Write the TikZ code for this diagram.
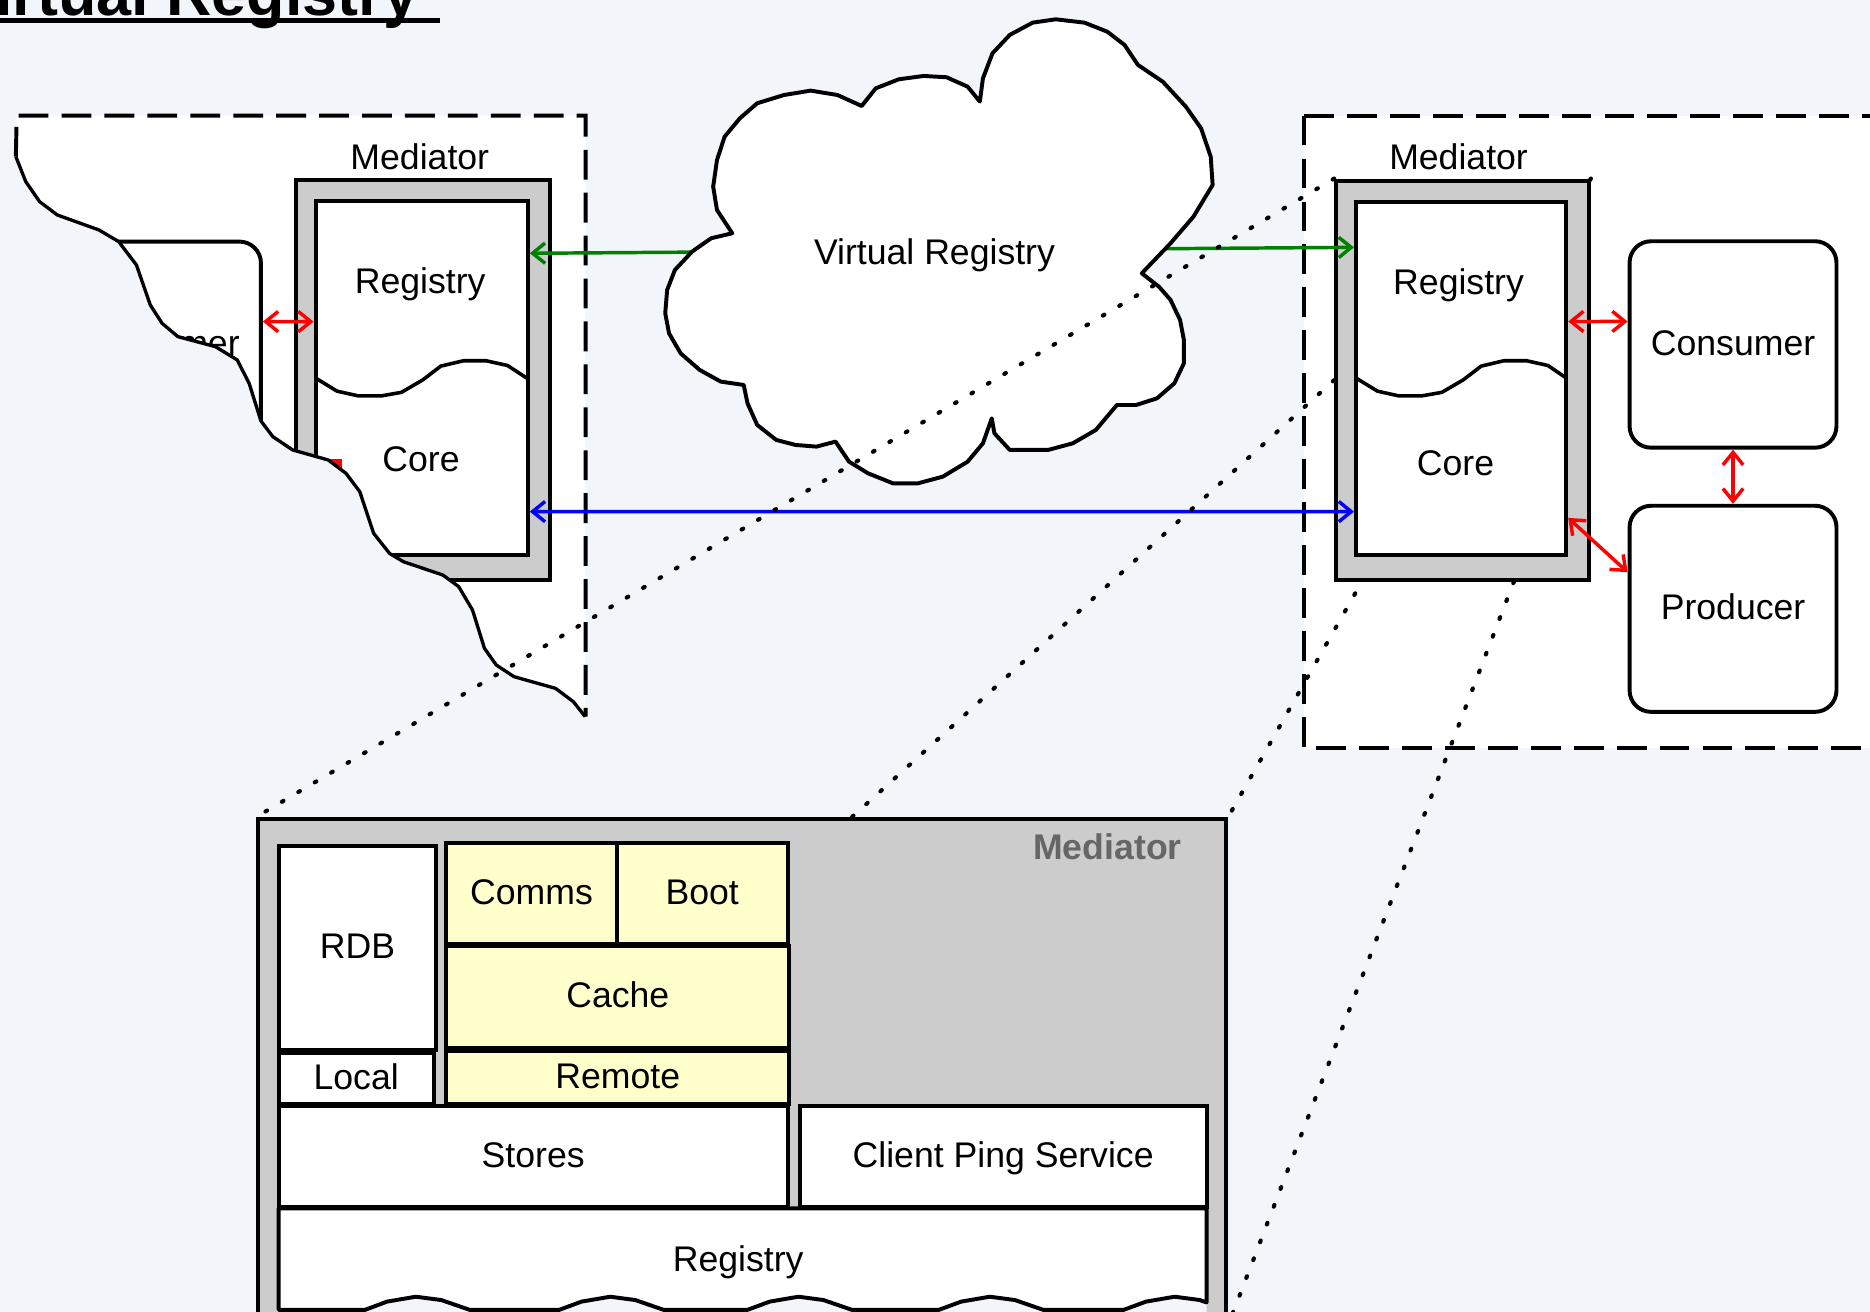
\documentclass[tikz,border=0pt]{standalone}
\usepackage{fontspec}
\setmainfont{Liberation Sans}
\usetikzlibrary{arrows.meta,calc}
\pgfdeclarelayer{back}
\pgfsetlayers{back,main}

\definecolor{bgcol}{HTML}{F2F5FA}
\definecolor{framegray}{HTML}{CCCCCC}
\definecolor{compyellow}{HTML}{FFFFCC}
\definecolor{labelgray}{HTML}{666666}
\definecolor{arrgreen}{HTML}{008000}

\def\tornedge{(13.3,131.4) -- (21.6,152.3) -- (33.2,169.1) -- (48.1,180.3) -- (82.9,192.8) -- (99.5,202.6) -- (114.4,222.2) -- (126,255.7) -- (135.9,271.1) -- (149.2,282.3) -- (180.7,290.7) -- (198.9,301.8) -- (208.9,321.4) -- (218.8,353) -- (228.8,366.2) -- (245.4,377.3) -- (275.2,385.7) -- (290.1,396.9) -- (301.7,412.3) -- (313.3,447.2) -- (326.6,464) -- (338.2,471) -- (371.4,482.2) -- (384.6,491.9) -- (396.2,511.5) -- (406.2,543.6) -- (416.1,557.6) -- (431,567.4) -- (465.8,577.2) -- (480.8,588.4) -- (490.7,600.9)}

\begin{document}
\begin{tikzpicture}[x=0.1mm,y=-0.1mm,
    every node/.style={font=\fontsize{8.5}{10}\selectfont, text height=2.2mm, text depth=0.4mm},
    >={Straight Barb[length=1.05mm,width=1.7mm]},
    mbox/.style={draw, line width=0.33mm, inner sep=0pt},
    medframe/.style={mbox, fill=framegray},
    comp/.style={mbox, fill=white},
    yellowcomp/.style={mbox, fill=compyellow},
    actor/.style={mbox, fill=white, rounded corners=1.8mm},
    dashbox/.style={line width=0.33mm, dash pattern=on 2.5mm off 1.1mm},
    dotline/.style={line width=0.35mm, line cap=round, dash pattern=on 0.15mm off 1.45mm},
    tornline/.style={line width=0.28mm, line join=round},
    wavy/.style={line width=0.3mm, line join=round},
    cloudline/.style={line width=0.33mm, line join=round, fill=white},
    dlink/.style={line width=0.29mm, <->}]
    \useasboundingbox (0,0) rectangle (1568,1100);

    \begin{pgfonlayer}{back}
    \fill[bgcol] (0,0) rectangle (1568,1100);
    \node[anchor=base west, inner sep=0pt, font=\bfseries\fontsize{15}{18}\selectfont] (title) at (-38.8,12.6) {Virtual Registry};
    \draw[line width=0.36mm] ([yshift=-0.46mm]title.base west) -- ([xshift=1.75mm,yshift=-0.46mm]title.base east);

    \fill[white] \tornedge -- (491,97) -- (14,97) -- cycle;
    \begin{scope}
    \clip \tornedge -- (491,97) -- (14,97) -- cycle;
    \node[actor, minimum width=17.35mm, minimum height=17.31mm](lcons) at (132.05,289.15) {Consumer};
    \node[medframe, minimum width=21.35mm, minimum height=33.5mm](lmed) at (354.75,318.5) {};
    \node[comp, minimum width=17.8mm, minimum height=29.69mm](lin) at (353.6,317) {};
    \draw[wavy, shift={(264.6,0)}] (0,317) -- (18,328) -- (36,332) -- (55,332) -- (72,329) -- (90,318.5) -- (105,307) -- (124,302.5) -- (143,302.5) -- (161,306.5) -- (177,317);
    \node(lreg) at (352.3,237.5) {Registry};
    \node(lcore) at (353,386.5) {Core};
    \draw[dlink, red] ([yshift=1.95mm]lcons.east) -- ([yshift=4.73mm]lin.west);
    \fill[red] (268,385.1) rectangle (286.5,402);
    \end{scope}
    \node(lmedlabel) at (352,133) {Mediator};
    \draw[tornline] \tornedge;
    \draw[dashbox] (13.3,131.4) -- (14,97) -- (491,97) -- (491,601);

    \draw[dashbox, fill=white] (1093.6,97) rectangle (1620,627);
    \end{pgfonlayer}

    \node[medframe, minimum width=21.19mm, minimum height=33.46mm](rmed) at (1226.35,318.7) {};
    \node[comp, minimum width=17.63mm, minimum height=29.56mm](rin) at (1225.15,317.4) {};
    \draw[wavy, shift={(1137,0)}] (0,317) -- (18,328) -- (36,332) -- (55,332) -- (72,329) -- (90,318.5) -- (105,307) -- (124,302.5) -- (143,302.5) -- (161,306.5) -- (176.3,317);
    \node(rmedlabel) at (1223,133.5) {Mediator};
    \node(rreg) at (1223,238) {Registry};
    \node(rcore) at (1220.5,389.7) {Core};

    \node[actor, minimum width=17.35mm, minimum height=17.31mm](cons) at (1453.15,288.85) {Consumer};
    \node[actor, minimum width=17.35mm, minimum height=17.28mm](prod) at (1453.15,510.5) {Producer};

    \draw[dlink, red] ([yshift=4.78mm]rin.east) -- ([yshift=1.93mm]cons.west);
    \draw[dlink, red] (cons.south) -- (prod.north);
    \draw[dlink, red] ([yshift=-11.69mm]rin.east) -- ([yshift=3.07mm]prod.west);

    \node[medframe, minimum width=81.2mm, minimum height=42.3mm](bigmed) at (622,898.5) {};
    \node[anchor=east, inner sep=0pt, font=\bfseries\fontsize{8.5}{10}\selectfont, text=labelgray](bmlabel) at (991.5,711.5) {Mediator};
    \node[comp, minimum width=13.21mm, minimum height=17.13mm](rdb) at (299.75,794.75) {RDB};
    \node[comp, minimum width=12.99mm, minimum height=4.25mm](local) at (298.65,904.45) {Local};
    \node[yellowcomp, minimum width=14.28mm, minimum height=8.44mm](comms) at (445.7,749.3) {Comms};
    \node[yellowcomp, minimum width=14.33mm, minimum height=8.44mm](boot) at (588.75,749.3) {Boot};
    \node[yellowcomp, minimum width=28.74mm, minimum height=8.6mm](cache) at (518,836) {Cache};
    \node[yellowcomp, minimum width=28.74mm, minimum height=4.47mm](remote) at (518,903.35) {Remote};
    \node[comp, minimum width=42.67mm, minimum height=8.44mm](stores) at (447.05,969.6) {Stores};
    \node[comp, minimum width=34.11mm, minimum height=8.44mm](ping) at (841.15,969.6) {Client Ping Service\hspace{1.55mm}};
    \fill[bgcol] (233.7,1098.4) -- (305.9,1098.4) -- (324.6,1091.4) -- (348.7,1087.3) -- (370,1090.1) -- (394.1,1098.4) -- (468.7,1098.4) -- (487.7,1091.4) -- (511.7,1087.3) -- (532.7,1090.1) -- (556.7,1098.4) -- (626.5,1098.4) -- (645.5,1091.4) -- (669.5,1087.3) -- (690.5,1090.1) -- (714.5,1098.4) -- (787,1098.4) -- (806,1091.4) -- (830,1087.3) -- (851,1090.1) -- (875,1098.4) -- (942,1098.4) -- (961,1091.4) -- (985,1087.3) -- (1006,1090.1) -- (1011.7,1092.1) -- (1011.7,1110) -- (233.7,1110) -- cycle;
    \filldraw[fill=white, line width=0.33mm, line join=round] (1011.7,1092.1) -- (1011.7,1013.2) -- (233.7,1013.2) -- (233.7,1098.4) -- (305.9,1098.4) -- (324.6,1091.4) -- (348.7,1087.3) -- (370,1090.1) -- (394.1,1098.4) -- (468.7,1098.4) -- (487.7,1091.4) -- (511.7,1087.3) -- (532.7,1090.1) -- (556.7,1098.4) -- (626.5,1098.4) -- (645.5,1091.4) -- (669.5,1087.3) -- (690.5,1090.1) -- (714.5,1098.4) -- (787,1098.4) -- (806,1091.4) -- (830,1087.3) -- (851,1090.1) -- (875,1098.4) -- (942,1098.4) -- (961,1091.4) -- (985,1087.3) -- (1006,1090.1) -- cycle;
    \node(breg) at (619,1057.3) {Registry};

    \begin{pgfonlayer}{back}
    \draw[dotline] (rmed.north east) -- (bigmed.north east);
    \draw[dotline] ($(rmed.south west)!0.7!(rmed.south east)$) -- (bigmed.south east);
    \end{pgfonlayer}

    \draw[dlink, arrgreen] ([yshift=10.46mm]lin.east) -- ([yshift=11mm]rin.west);
    \draw[cloudline] (614,195.6) -- (596.3,199.8) -- (580.3,211) -- (565.9,226.4) -- (559.4,243.2) -- (557.8,262.7) -- (561,279.5) -- (570.7,296.3) -- (586.7,310.2) -- (604.4,320) -- (623.6,322.8) -- (626.8,338.2) -- (634.9,356.3) -- (650.9,368.9) -- (667,373.1) -- (684.6,374.5) -- (700.6,370.3) -- (711.9,387.1) -- (727.9,396.9) -- (748.8,405.3) -- (769.6,405.3) -- (790.5,399.7) -- (811.4,387.1) -- (824.2,371.7) -- (831.6,350.8) -- (833.8,363.3) -- (846.7,377.3) -- (878.8,377.3) -- (899.6,371.7) -- (918.9,360.5) -- (936.5,339.6) -- (952.6,339.6) -- (970.2,334) -- (984.7,321.4) -- (992.7,304.6) -- (992.7,285.1) -- (989.5,268.3) -- (981.5,251.5) -- (971.8,240.4) -- (957.4,229.2) -- (981.5,204) -- (1000.7,181.7) -- (1016.8,155.1) -- (1015.2,131.4) -- (1007.1,107.6) -- (994.3,89.4) -- (975,68.5) -- (954.2,54.5) -- (942.9,37.7) -- (928.5,26.6) -- (909.3,19) -- (885.2,16.2) -- (865.9,19) -- (846.7,29.3) -- (832.2,44.7) -- (824.2,65.7) -- (821.6,85.2) -- (811.4,72.7) -- (793.7,64.8) -- (774.5,63.7) -- (753.6,66.5) -- (734.3,74.1) -- (722.5,88.9) -- (702.3,79.7) -- (679.8,76) -- (657.3,79.7) -- (634.9,86.6) -- (620.4,99.2) -- (607.6,114.6) -- (601.2,134.2) -- (598,156.5) -- (601.2,176.1) -- cycle;
    \node(vr) at (783.6,213) {Virtual Registry};
    \draw[dlink, blue] ([yshift=-11.2mm]lin.east) -- ([yshift=-11.16mm]rin.west);

    \draw[dotline] (rmed.north west) -- (bigmed.north west);
    \draw[dotline] (rmed.west) -- ($(bigmed.north west)!0.613!(bigmed.north east)$);
\end{tikzpicture}
\end{document}
